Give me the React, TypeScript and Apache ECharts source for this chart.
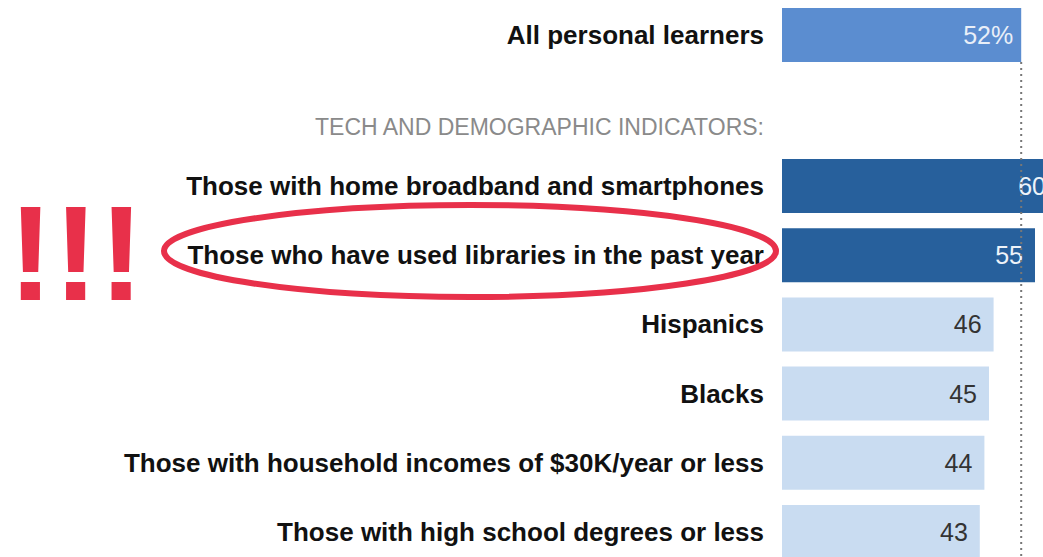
import React, { useEffect, useRef } from "react";
import * as echarts from "echarts";

const topCategory = ["All personal learners"];
const topValue = [52];
const sectionHeader = "TECH AND DEMOGRAPHIC INDICATORS:";
const categories = [
  "Those with home broadband and smartphones",
  "Those who have used libraries in the past year",
  "Hispanics",
  "Blacks",
  "Those with household incomes of $30K/year or less",
  "Those with high school degrees or less",
];
const values = [60, 55, 46, 45, 44, 43];
const referenceValue = 52;
const highlightCount = 2;

const RED = "#e8304a";
const FONT = "'Liberation Sans', Arial, sans-serif";

export default function App() {
  const ref = useRef<HTMLDivElement>(null);
  useEffect(() => {
    if (!ref.current) return;
    const chart = echarts.init(ref.current, undefined, { renderer: "svg" });
    const catLabel = {
      fontFamily: FONT,
      fontWeight: "bold" as const,
      fontSize: 26,
      color: "#111",
      margin: 18,
    };
    chart.setOption({
      animation: false,
      grid: [
        { left: 782, top: 8, width: 276, height: 54 },
        { left: 782, top: 151.5, width: 276, height: 415 },
      ],
      xAxis: [
        { type: "value", gridIndex: 0, min: 0, max: 60, show: false },
        { type: "value", gridIndex: 1, min: 0, max: 60, show: false },
      ],
      yAxis: [
        {
          type: "category",
          gridIndex: 0,
          data: topCategory,
          inverse: true,
          axisLine: { show: false },
          axisTick: { show: false },
          axisLabel: catLabel,
        },
        {
          type: "category",
          gridIndex: 1,
          data: categories,
          inverse: true,
          axisLine: { show: false },
          axisTick: { show: false },
          axisLabel: catLabel,
        },
      ],
      series: [
        {
          type: "bar",
          xAxisIndex: 0,
          yAxisIndex: 0,
          barWidth: 54,
          data: topValue,
          itemStyle: { color: "#5b8dd0" },
          label: {
            show: true,
            position: "insideRight",
            distance: 8,
            formatter: "{c}%",
            color: "#e9eff8",
            fontFamily: FONT,
            fontSize: 25,
          },
        },
        {
          type: "bar",
          xAxisIndex: 1,
          yAxisIndex: 1,
          barWidth: 54,
          data: values.map((v, i) => ({
            value: v,
            itemStyle: { color: i < highlightCount ? "#27609c" : "#c9dcf1" },
            label: { color: i < highlightCount ? "#eef3f9" : "#333" },
          })),
          label: {
            show: true,
            position: "insideRight",
            distance: 12,
            fontFamily: FONT,
            fontSize: 25,
          },
        },
      ],
      graphic: [
        {
          id: "header",
          type: "text",
          x: 764,
          y: 127,
          style: {
            text: sectionHeader,
            align: "right",
            verticalAlign: "middle",
            fill: "#8a8a8a",
            fontFamily: FONT,
            fontSize: 23,
          },
        },
        {
          id: "ring",
          type: "ellipse",
          z: 10,
          shape: { cx: 470, cy: 251, rx: 306, ry: 46 },
          style: { fill: "none", stroke: RED, lineWidth: 6 },
        },
        {
          id: "bang",
          type: "text",
          x: 76,
          y: 253,
          style: {
            text: "!!!",
            align: "center",
            verticalAlign: "middle",
            fill: RED,
            fontFamily: FONT,
            fontWeight: "bold",
            fontSize: 136,
          },
        },
      ],
    });
    const x = chart.convertToPixel({ xAxisIndex: 0 }, referenceValue) as number;
    chart.setOption({
      graphic: [
        {
          id: "refline",
          type: "line",
          z: 5,
          shape: { x1: x, y1: 62, x2: x, y2: 570 },
          style: { stroke: "#777", lineWidth: 2, lineDash: [2, 4] },
        },
      ],
    });
    return () => chart.dispose();
  }, []);
  return (
    <div
      style={{
        position: "absolute",
        left: 0,
        top: 0,
        width: 1043,
        height: 557,
        overflow: "hidden",
        background: "#fff",
      }}
    >
      <div ref={ref} style={{ width: 1070, height: 580 }} />
    </div>
  );
}
